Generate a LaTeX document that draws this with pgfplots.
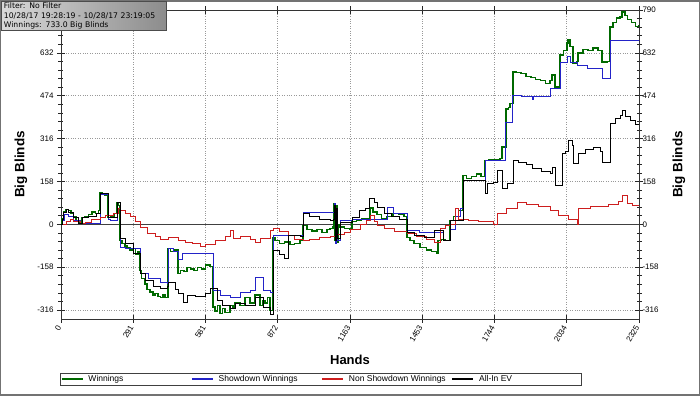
\documentclass[border=0pt]{standalone}
\usepackage{pgfplots}
\pgfplotsset{compat=1.18}
\usepackage{fontspec}
\setmainfont{Liberation Sans}
\newfontfamily\infofont{DejaVu Sans}
\usetikzlibrary{calc}
\definecolor{cwin}{RGB}{0,105,0}
\definecolor{csd}{RGB}{35,35,200}
\definecolor{cnsd}{RGB}{205,30,30}
\definecolor{cev}{RGB}{0,0,0}
\begin{document}
\begin{tikzpicture}
\pgfplotsset{
  common/.style={
    width=578pt, height=309pt, scale only axis,
    xmin=0, xmax=2325, ymin=-349, ymax=790,
    ytick={-316,-158,0,158,316,474,632,790},
    xtick={0,291,581,872,1163,1453,1744,2034,2325},
    minor x tick num=4, minor y tick num=4,
    tick align=center,
    major tick length=8pt, minor tick length=5pt,
    /pgf/number format/1000 sep={},
    /pgf/number format/assume math mode=true,
    tick label style={font=\fontsize{8}{9.6}\selectfont},
    axis line style={black!80, line width=0.8pt},
    tick style={black!85, line width=0.6pt},
  }
}
\begin{axis}[common,
  grid=major, grid style={dotted, line width=0.6pt, gray!80},
  xticklabel style={rotate=60, anchor=east},
  xlabel={Hands},
  xlabel style={font=\bfseries\fontsize{13}{15}\selectfont, at={(axis description cs:0.5,0)}, anchor=center, yshift=-41pt},
  ylabel={Big Blinds},
  ylabel style={font=\bfseries\fontsize{13.5}{16}\selectfont, at={(axis description cs:0,0.5)}, anchor=center, rotate=0, yshift=40pt},
  legend columns=4,
  legend cell align=left,
  legend style={at={(axis description cs:0,0)}, anchor=north west, yshift=-54pt, xshift=-1pt,
    draw=black!75, inner xsep=1pt, inner ysep=0pt,
    font=\fontsize{8.5}{10}\selectfont,
    /tikz/every even column/.append style={column sep=2pt},
    /tikz/every odd column/.append style={column sep=3pt}},
  legend image code/.code={\draw[#1] (0pt,0pt) -- (21pt,0pt);},
]
\draw[black!75, line width=0.8pt] (axis cs:0,0) -- (axis cs:2325,0);
% Winnings
\addplot[const plot, draw=cwin, line width=1.3pt] coordinates {
(0,0) (4,20) (10,45) (20,55) (30,50) (40,40) (50,30) (60,15) (70,5) (76,8) (85,25) (97,30) (110,35) (125,45) (140,40) (150,50)
(157,115) (165,110) (175,105) (189,25) (200,30) (215,40) (225,80) (232,70) (237,-60) (245,-70) (257,-80) (265,-85) (278,-95)
(290,-90) (300,-110) (310,-100) (318,-170) (325,-200) (338,-220) (346,-240) (358,-250) (370,-260) (378,-255) (390,-265)
(400,-270) (410,-260) (418,-270) (430,-89) (440,-100) (455,-95) (471,-181) (480,-170) (495,-175) (507,-160) (520,-165)
(535,-170) (550,-160) (565,-165) (580,-150) (599,-155) (611,-305) (620,-320) (630,-300) (640,-330) (650,-310) (660,-325)
(680,-300) (692,-310) (700,-290) (720,-300) (740,-270) (760,-290) (780,-260) (800,-300) (813,-280) (821,-290) (830,-270)
(841,-318) (853,-48) (861,-60) (880,-70) (900,-65) (921,-75) (940,-70) (961,-60) (973,-5) (990,-20) (1010,-25) (1030,-20)
(1050,-30) (1070,-20) (1082,-15) (1094,-10) (1098,75) (1102,-60) (1106,70) (1110,-65) (1116,0) (1122,-10) (1140,-15)
(1163,-20) (1171,10) (1190,15) (1210,20) (1230,22) (1243,60) (1255,45) (1271,35) (1290,20) (1311,30) (1335,40) (1360,35)
(1380,30) (1392,-48) (1404,-60) (1420,-70) (1444,-85) (1470,-95) (1490,-100) (1512,-107) (1516,-60) (1530,-55) (1545,-60)
(1565,15) (1580,30) (1600,50) (1617,180) (1630,170) (1650,175) (1670,185) (1690,175) (1706,236) (1720,240) (1740,238)
(1766,243) (1774,285) (1790,425) (1800,430) (1806,446) (1818,561) (1830,560) (1850,555) (1870,545) (1890,540) (1910,535)
(1930,530) (1950,520) (1967,531) (1975,550) (1987,506) (2007,624) (2020,640) (2035,668) (2039,679) (2047,655) (2060,594)
(2076,600) (2080,631) (2100,645) (2120,640) (2140,650) (2160,640) (2176,598) (2196,600) (2208,727) (2220,745) (2235,760)
(2249,764) (2257,783) (2269,770) (2280,755) (2295,745) (2310,730) (2325,733)
};
\addlegendentry{\makebox[99pt][l]{Winnings}}
% Showdown
\addplot[const plot, draw=csd, line width=0.7pt, legend image post style={line width=1.2pt}] coordinates {
(0,0) (4,15) (15,35) (30,30) (50,15) (76,2) (97,2) (120,5) (157,110) (189,18) (200,15) (225,80) (237,-85) (260,-88)
(300,-90) (318,-181) (350,-200) (400,-215) (426,-218) (430,-89) (450,-100) (471,-130) (487,-107) (560,-107) (611,-244)
(640,-260) (680,-270) (720,-250) (760,-244) (780,-195) (813,-244) (841,-250) (853,-40) (973,44) (1094,44) (1098,78)
(1102,-70) (1106,60) (1110,-60) (1122,15) (1171,18) (1230,20) (1311,63) (1335,40) (1392,-22) (1443,-30) (1537,-60)
(1565,-20) (1585,30) (1605,60) (1617,162) (1698,162) (1706,236) (1774,236) (1786,377) (1806,377) (1814,476) (1850,472)
(1895,460) (1900,470) (1967,502) (2007,598) (2035,620) (2047,598) (2076,587) (2116,575) (2176,539) (2208,679) (2301,679)
(2325,664)
};
\addlegendentry{\makebox[99pt][l]{Showdown Winnings}}
% Non showdown
\addplot[const plot, draw=cnsd, line width=0.6pt, legend image post style={line width=1.2pt}] coordinates {
(0,0) (20,10) (36,20) (50,12) (76,5) (97,8) (120,20) (157,25) (180,35) (210,40) (229,60) (237,52) (260,40) (278,30)
(300,10) (318,-10) (346,-33) (378,-45) (400,-55) (430,-48) (470,-60) (500,-65) (530,-70) (559,-80) (580,-72) (620,-60)
(660,-45) (680,-22) (692,-52) (720,-45) (760,-55) (780,-65) (800,-50) (841,-22) (853,-15) (880,-25) (913,-40) (940,-55)
(973,-60) (1000,-55) (1040,-48) (1082,-45) (1110,-38) (1140,-30) (1163,-20) (1203,0) (1230,15) (1243,33) (1260,10)
(1271,-5) (1300,-15) (1340,-25) (1392,-33) (1430,-45) (1470,-55) (1500,-66) (1525,-15) (1545,-5) (1565,0) (1585,59)
(1600,20) (1640,15) (1680,10) (1738,0) (1754,40) (1790,60) (1834,82) (1870,75) (1920,65) (1967,52) (2000,35) (2040,20)
(2076,0) (2080,59) (2130,65) (2200,75) (2240,85) (2257,107) (2277,78) (2300,70) (2325,63)
};
\addlegendentry{\makebox[99pt][l]{Non Showdown Winnings}}
% All-in EV
\addplot[const plot, draw=cev, line width=0.6pt, legend image post style={line width=1.2pt}] coordinates {
(0,0) (4,20) (10,45) (20,55) (30,45) (50,25) (70,5) (85,25) (110,30) (140,40) (157,115) (189,25) (225,80) (237,-52)
(260,-70) (290,-107) (318,-181) (338,-207) (370,-230) (400,-236) (426,-230) (430,-215) (460,-240) (471,-255) (490,-288)
(507,-260) (540,-265) (580,-255) (599,-236) (611,-236) (628,-280) (650,-300) (680,-310) (700,-290) (740,-300) (780,-270)
(813,-305) (841,-330) (853,-96) (880,-110) (900,-125) (913,-40) (961,-45) (973,40) (1000,30) (1040,20) (1082,15)
(1094,20) (1098,70) (1102,-60) (1106,60) (1110,-50) (1122,8) (1171,25) (1200,50) (1223,60) (1240,96) (1260,80) (1271,63)
(1300,40) (1330,30) (1360,20) (1392,-30) (1420,-40) (1460,-48) (1500,-22) (1537,-60) (1565,15) (1600,15) (1617,162)
(1698,162) (1706,114) (1714,150) (1740,155) (1754,200) (1774,133) (1794,151) (1818,236) (1840,230) (1870,220) (1895,205)
(1930,195) (1967,188) (1975,210) (1987,144) (2015,262) (2030,270) (2039,310) (2056,290) (2060,225) (2080,262) (2110,275)
(2140,284) (2168,270) (2176,229) (2200,230) (2208,373) (2230,390) (2249,402) (2257,421) (2270,400) (2290,385) (2310,370)
(2325,365)
};
\addlegendentry{\makebox[99pt][l]{All-In EV}}
\end{axis}
\begin{axis}[common,
  yticklabel pos=right, xtick=\empty,
  axis line style={draw=none}, major tick length=0pt, minor tick length=0pt,
  ylabel={Big Blinds},
  ylabel style={font=\bfseries\fontsize{13.5}{16}\selectfont, at={(axis description cs:1,0.5)}, anchor=center, rotate=0, yshift=-40pt},
]
\addplot[draw=none] coordinates {(0,0)};
\end{axis}
\coordinate (A) at ($(current axis.south west)+(-61pt,-77pt)$);
\coordinate (B) at ($(current axis.north east)+(61pt,10pt)$);
\pgfresetboundingbox
\path (A) rectangle (B);
\draw[black!55, line width=1.5pt] ($(A)+(0.75pt,0.75pt)$) rectangle ($(B)-(0.75pt,0.75pt)$);
\node[anchor=north west, draw=black!70, line width=0.8pt, left color=black!15, right color=black!45,
  inner xsep=2.5pt, inner ysep=1.5pt, align=left, text width=160pt,
  font=\infofont\fontsize{7.7}{9.4}\selectfont] at ($(A |- B)+(1pt,-1pt)$)
  {Filter: No Filter\\10/28/17 19:28:19 - 10/28/17 23:19:05\\Winnings: 733.0 Big Blinds};
\end{tikzpicture}
\end{document}
